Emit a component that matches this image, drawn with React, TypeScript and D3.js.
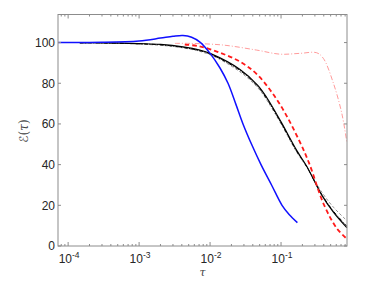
import * as d3 from 'd3';
import React, { useEffect, useRef } from 'react';

// tau values and E(tau)
const blueTau = [7.2e-5, 3e-4, 1e-3, 2e-3, 3e-3, 4.15e-3, 5.5e-3, 7.2e-3, 1e-2, 0.0138, 0.0179, 0.0232, 0.0291, 0.039, 0.0522, 0.0735, 0.1033, 0.13, 0.17];
const blueVal = [100, 100.1, 100.8, 102.2, 103.1, 103.5, 102.6, 100.2, 94.7, 87.5, 80, 69.5, 60, 49.5, 40, 30, 20, 15.5, 11.5];

const blackTau = [1.46e-4, 3e-4, 1e-3, 2e-3, 4.15e-3, 7.2e-3, 1e-2, 0.0264, 0.047, 0.0628, 0.1, 0.166, 0.23, 0.375, 0.55, 0.845];
const blackVal = [99.9, 99.9, 99.5, 99.1, 97.9, 96.3, 94.7, 86.8, 79, 73, 61, 47, 39.2, 25, 16.5, 9];

const dotTau = [1.46e-4, 3e-4, 1e-3, 2e-3, 4.15e-3, 7.2e-3, 1e-2, 0.0264, 0.047, 0.0628, 0.1, 0.166, 0.23, 0.375, 0.55, 0.845];
const dotVal = [99.9, 99.8, 99.4, 98.9, 97.6, 96, 94.4, 86.3, 78.4, 72.4, 60.5, 46.6, 39, 25.3, 17, 9.8];

const grayTau = [1.46e-4, 1e-3, 4.15e-3, 1e-2, 0.0264, 0.047, 0.0628, 0.1, 0.166, 0.23, 0.375, 0.55, 0.845];
const grayVal = [99.9, 99.3, 97.4, 94, 85.6, 77.8, 71.8, 60, 46.2, 38.8, 26.5, 19, 12.5];

const redTau = [4.4e-3, 7e-3, 0.0138, 0.0264, 0.047, 0.0968, 0.185, 0.25, 0.4, 0.61, 0.845];
const redVal = [99, 98.2, 95, 90.6, 84, 69.5, 51, 40.5, 20.5, 8.7, 3.5];

const pinkTau = [3.2e-3, 5.2e-3, 0.0151, 0.0454, 0.0968, 0.185, 0.318, 0.395, 0.547, 0.718, 0.845];
const pinkVal = [99.6, 99.6, 98.8, 96.3, 94.3, 94.7, 95, 92.2, 80, 65.2, 51];

const yTicks = [0, 20, 40, 60, 80, 100];
const xMajor = [1e-4, 1e-3, 1e-2, 1e-1];
const xExp = ['-4', '-3', '-2', '-1'];

const App = () => {
    const ref = useRef<SVGSVGElement>(null);

    useEffect(() => {
        const svg = d3.select(ref.current);
        svg.selectAll('*').remove();

        const left = 58, right = 347, top = 14.5, bottom = 246;
        const x = d3.scaleLog().domain([7.2e-5, 0.85]).range([left, right]);
        const y = d3.scaleLinear().domain([0, 113.8]).range([bottom, top]);
        const frame = '#8c8c8c';

        // lines first, frame drawn over
        const line = d3.line<[number, number]>()
            .x(d => x(d[0]))
            .y(d => y(d[1]))
            .curve(d3.curveCatmullRom.alpha(0.5));
        const zip = (t: number[], v: number[]) => t.map((d, i) => [d, v[i]] as [number, number]);

        const series = [
            { t: grayTau, v: grayVal, color: '#8a8a8a', w: 0.9, dash: '3,2' },
            { t: dotTau, v: dotVal, color: '#000', w: 1, dash: '4,1.5,1,1.5' },
            { t: blackTau, v: blackVal, color: '#000', w: 1.2, dash: null },
            { t: pinkTau, v: pinkVal, color: '#ff8f8f', w: 0.9, dash: '5,2,1,2' },
            { t: redTau, v: redVal, color: '#ff1a1a', w: 1.8, dash: '4.5,3' },
            { t: blueTau, v: blueVal, color: '#1010ff', w: 1.5, dash: null },
        ];

        svg.append('g')
            .selectAll('path')
            .data(series)
            .join('path')
            .attr('fill', 'none')
            .attr('stroke', d => d.color)
            .attr('stroke-width', d => d.w)
            .attr('stroke-dasharray', d => d.dash)
            .attr('d', d => line(zip(d.t, d.v)));

        // frame
        svg.append('rect')
            .attr('x', left).attr('y', top)
            .attr('width', right - left).attr('height', bottom - top)
            .attr('fill', 'none').attr('stroke', frame).attr('stroke-width', 1);

        // y ticks, inward on both sides
        const gy = svg.append('g').attr('stroke', frame);
        yTicks.forEach(v => {
            gy.append('line').attr('x1', left).attr('x2', left + 3).attr('y1', y(v)).attr('y2', y(v));
            gy.append('line').attr('x1', right).attr('x2', right - 3).attr('y1', y(v)).attr('y2', y(v));
        });
        svg.append('g')
            .attr('font-family', 'Liberation Sans, Arial, sans-serif')
            .attr('font-size', 12)
            .attr('fill', '#262626')
            .attr('text-anchor', 'end')
            .selectAll('text')
            .data(yTicks)
            .join('text')
            .attr('x', left - 3)
            .attr('y', d => y(d) + 4.3)
            .text(d => d);

        // x ticks, major and minor
        const minor: number[] = [];
        [1e-5, 1e-4, 1e-3, 1e-2, 1e-1].forEach(dec => {
            for (let k = 2; k <= 9; k++) {
                const t = dec * k;
                if (t >= x.domain()[0] && t <= x.domain()[1]) minor.push(t);
            }
        });
        const gx = svg.append('g').attr('stroke', frame);
        xMajor.forEach(t => {
            gx.append('line').attr('x1', x(t)).attr('x2', x(t)).attr('y1', bottom).attr('y2', bottom - 4);
            gx.append('line').attr('x1', x(t)).attr('x2', x(t)).attr('y1', top).attr('y2', top + 4);
        });
        minor.forEach(t => {
            gx.append('line').attr('x1', x(t)).attr('x2', x(t)).attr('y1', bottom).attr('y2', bottom - 2);
            gx.append('line').attr('x1', x(t)).attr('x2', x(t)).attr('y1', top).attr('y2', top + 2);
        });
        const xl = svg.append('g')
            .attr('font-family', 'Liberation Sans, Arial, sans-serif')
            .attr('fill', '#262626')
            .selectAll('text')
            .data(xMajor)
            .join('text')
            .attr('x', d => x(d) - 9.5)
            .attr('y', 263)
            .attr('font-size', 12);
        xl.append('tspan').text('10');
        xl.append('tspan')
            .attr('font-size', 8.5)
            .attr('dy', -5.5)
            .text((d, i) => xExp[i]);

        // axis labels
        svg.append('text')
            .attr('x', 202.5)
            .attr('y', 276)
            .attr('text-anchor', 'middle')
            .attr('font-family', 'DejaVu Serif, serif')
            .attr('font-style', 'italic')
            .attr('font-size', 11)
            .attr('fill', '#404040')
            .text('τ');
        svg.append('text')
            .attr('transform', 'translate(28,131) rotate(-90)')
            .attr('text-anchor', 'middle')
            .attr('font-family', 'DejaVu Serif, serif')
            .attr('font-size', 12)
            .attr('fill', '#404040')
            .call(t => t.append('tspan').attr('font-family', 'DejaVu Sans, sans-serif').attr('font-style', 'italic').text('ℰ'))
            .call(t => t.append('tspan').text('('))
            .call(t => t.append('tspan').attr('font-style', 'italic').text('τ'))
            .call(t => t.append('tspan').text(')'));
    }, []);

    return (
        <svg ref={ref} width={386} height={290}
            style={{ position: 'absolute', left: 0, top: 0, background: '#fff' }} />
    );
};

export default App;
